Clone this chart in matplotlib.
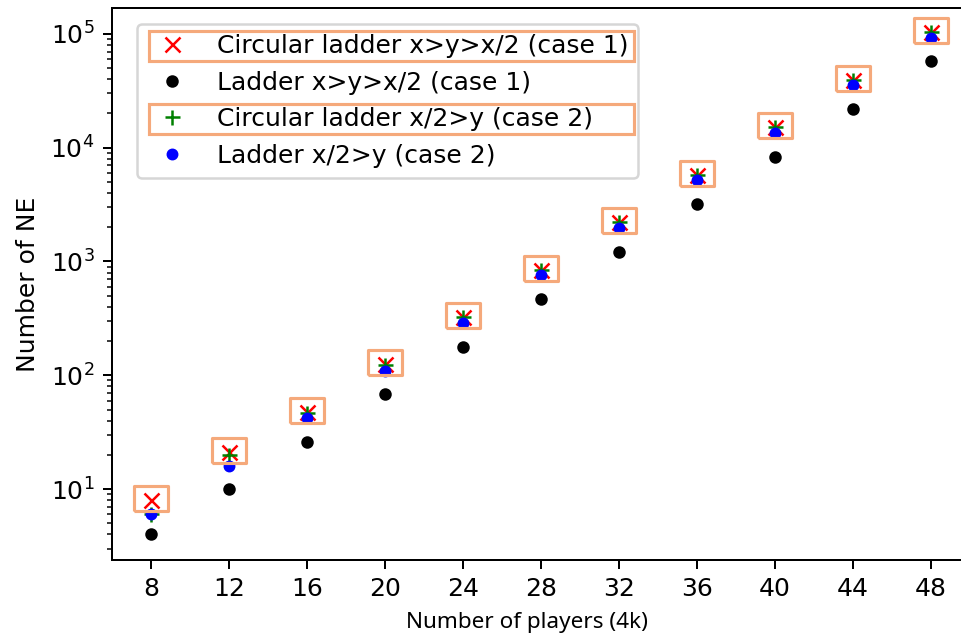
import numpy as np
import matplotlib
matplotlib.use('Agg')
import matplotlib.pyplot as plt
from matplotlib.patches import Rectangle
from matplotlib.transforms import IdentityTransform

# data
players = [8, 12, 16, 20, 24, 28, 32, 36, 40, 44, 48]
circ_case1 = [8, 21, 48, 125, 323, 844, 2208, 5779, 15128, 39604, 103683]
ladder_case1 = [4, 10, 26, 68, 178, 466, 1220, 3194, 8362, 21892, 57314]
circ_case2 = [6, 20, 47, 123, 322, 843, 2207, 5778, 15127, 39603, 103682]
ladder_case2 = [6, 16, 42, 110, 288, 754, 1974, 5168, 13530, 35422, 92736]

highlight = '#F5A97B'

fig = plt.figure(figsize=(961/180, 634/180), dpi=180)
# axes runs past the right edge (the reference is a crop)
ax = fig.add_axes([112/961, (634-560)/634, 858/961, 552/634])

ax.plot(players, circ_case1, 'rx', label='Circular ladder x>y>x/2 (case 1)')
ax.plot(players, ladder_case1, 'k.', ms=8, label='Ladder x>y>x/2 (case 1)')
ax.plot(players, circ_case2, 'g+', label='Circular ladder x/2>y (case 2)')
ax.plot(players, ladder_case2, 'b.', ms=7.5, label='Ladder x/2>y (case 2)')

# orange boxes round the circular ladder points (sitting a touch high)
box = [(-1, -0.62), (1, -0.62), (1, 0.8), (-1, 0.8), (-1, -0.62)]
ax.plot(players, circ_case1, linestyle='none', marker=box, ms=13.6,
        mfc='none', mec=highlight, mew=1.25)

ax.set_yscale('log')
ax.set_xlim(6, 50)
ax.set_ylim(2.38, 1.69e5)
ax.set_xticks(players)
ax.set_ylabel('Number of NE')
ax.set_xlabel('Number of players (4k)', family=['Noto Sans', 'DejaVu Sans'], fontsize=9)
ax.xaxis.set_label_coords(0.484, -0.095)

handles, labels = ax.get_legend_handles_labels()
leg = ax.legend(handles[:4], labels[:4], loc='upper left',
                bbox_to_anchor=(0.029, 0.971), borderaxespad=0)

fig.canvas.draw()
frame = leg.get_frame().get_window_extent()
for t in [leg.get_texts()[0], leg.get_texts()[2]]:
    bb = t.get_window_extent()
    yc = (bb.y0 + bb.y1) / 2
    r = Rectangle((frame.x0 + 12, yc - 15), frame.width - 16, 30,
                  transform=IdentityTransform(), fill=False,
                  edgecolor=highlight, lw=1.25)
    fig.add_artist(r)

fig.savefig('out.png', dpi=180)
